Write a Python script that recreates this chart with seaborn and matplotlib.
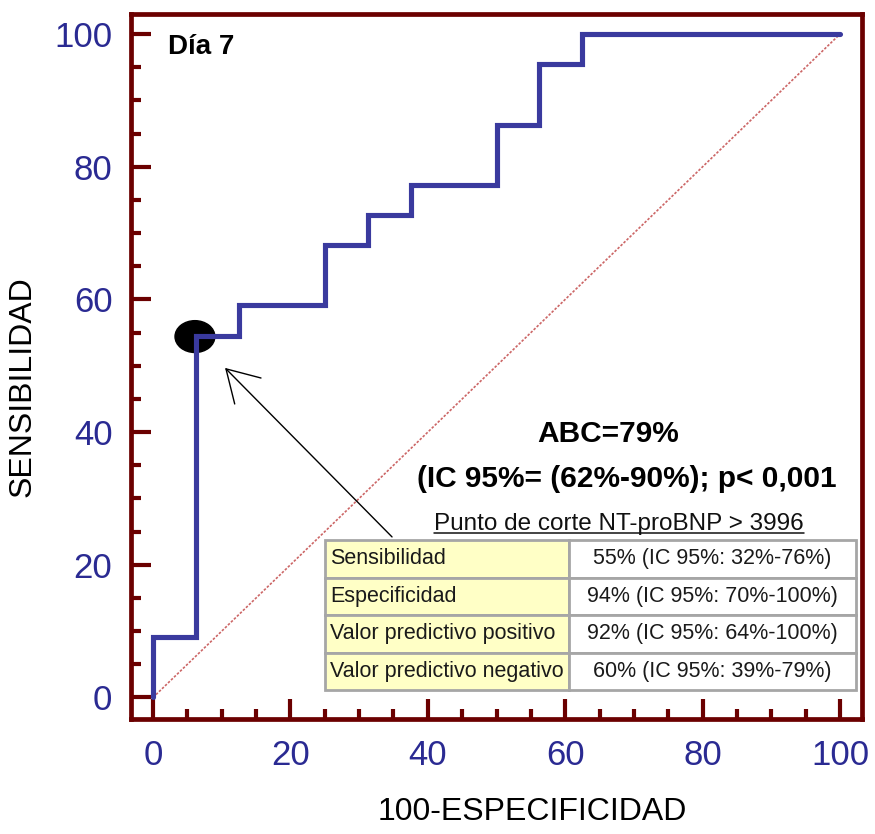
import numpy as np
import pandas as pd
import seaborn as sns
import matplotlib
matplotlib.use("Agg")
import matplotlib.pyplot as plt
import matplotlib.ticker as mticker
from matplotlib.patches import Ellipse
from matplotlib.table import Table
from matplotlib.lines import Line2D

# ROC curve vertices (100-especificidad, sensibilidad)
fpr = [0, 0, 6.25, 6.25, 12.5, 12.5, 25, 25, 31.25, 31.25, 37.5, 37.5,
       50, 50, 56.25, 56.25, 62.5, 62.5, 100]
tpr = [0, 9.09, 9.09, 54.55, 54.55, 59.09, 59.09, 68.18, 68.18, 72.73, 72.73,
       77.27, 77.27, 86.36, 86.36, 95.45, 95.45, 100, 100]
diag = [0, 100]

cut_point = (6.1, 54.4)

row_names = ['Sensibilidad', 'Especificidad', 'Valor predictivo positivo',
             'Valor predictivo negativo']
row_values = ['55% (IC 95%: 32%-76%)', '94% (IC 95%: 70%-100%)',
              '92% (IC 95%: 64%-100%)', '60% (IC 95%: 39%-79%)']

roc = pd.DataFrame({'fpr': fpr, 'tpr': tpr})

sns.set_style("white")
plt.rcParams['font.family'] = ['Liberation Sans', 'DejaVu Sans']
plt.rcParams['text.color'] = 'black'
plt.rcParams['axes.labelcolor'] = 'black'

maroon = '#6b0000'
navy = '#2a2a92'
curve = '#3a3a9e'

fig = plt.figure(figsize=(8.75, 8.34), dpi=100)
ax = fig.add_axes([130.5 / 875, (834 - 718.5) / 834, 731.5 / 875, 705 / 834])

# diagonal reference
sns.lineplot(x=diag, y=diag, ax=ax, color='#cc6666', lw=1.2,
             linestyle=(0, (1.5, 1)), zorder=2)

# cut-off point
ax.add_patch(Ellipse(cut_point, 5.8, 4.8, color='black', zorder=3))

# ROC curve
sns.lineplot(data=roc, x='fpr', y='tpr', ax=ax, estimator=None, sort=False,
             color=curve, lw=3.7, zorder=4, solid_joinstyle='miter')

ax.set_xlim(-3.28, 103.2)
ax.set_ylim(-3.17, 103.1)

for sp in ax.spines.values():
    sp.set_color(maroon)
    sp.set_linewidth(3.4)

ax.xaxis.set_major_locator(mticker.MultipleLocator(20))
ax.yaxis.set_major_locator(mticker.MultipleLocator(20))
ax.xaxis.set_minor_locator(mticker.MultipleLocator(5))
ax.yaxis.set_minor_locator(mticker.MultipleLocator(5))
ax.tick_params(which='both', direction='in', color=maroon, width=3,
               bottom=True, left=True, top=False, right=False)
ax.tick_params(which='major', length=14.5, labelsize=25, labelcolor=navy)
ax.tick_params(which='minor', length=7.5)
ax.tick_params(axis='y', which='major', pad=13)
ax.tick_params(axis='x', which='major', pad=15)

ax.set_xlabel('100-ESPECIFICIDAD', fontsize=23, color='black', va='center')
ax.set_ylabel('SENSIBILIDAD', fontsize=23, color='black', va='center')
ax.xaxis.set_label_coords(0.5489, -0.1326)
ax.yaxis.set_label_coords(-0.1476, 0.4709)

ax.text(0.0513, 0.9426, 'Día 7', transform=ax.transAxes, fontsize=20,
        fontweight='bold', ha='left', va='baseline', color='black')
ax.text(0.6528, 0.3922, 'ABC=79%', transform=ax.transAxes, fontsize=21.5,
        fontweight='bold', ha='center', va='baseline', color='black')
ax.text(0.6787, 0.3284, '(IC 95%= (62%-90%); p< 0,001', transform=ax.transAxes,
        fontsize=21.5, fontweight='bold', ha='center', va='baseline',
        color='black')
punto = ax.text(0.6678, 0.2674, 'Punto de corte NT-proBNP > 3996',
                transform=ax.transAxes, fontsize=17.5, ha='center',
                va='baseline', color='#111111')

# arrow to cut-off point
ax.annotate('', xy=(10.48, 49.68), xytext=(34.79, 24.2),
            arrowprops=dict(arrowstyle='->,head_length=1.6,head_width=0.95',
                            mutation_scale=14, color='black', lw=1.0,
                            shrinkA=0, shrinkB=0), zorder=5)

# results table
tb = Table(ax, bbox=[0.2659, 0.0404, 0.7259, 0.2128])
w_left, w_right = 244 / 531, 287 / 531
h = 1 / 4
for i, (name, val) in enumerate(zip(row_names, row_values)):
    c1 = tb.add_cell(i, 0, w_left, h, text=name, loc='left',
                     facecolor='#ffffc6', edgecolor='#a6a6a6')
    c1.PAD = 0.02
    c2 = tb.add_cell(i, 1, w_right, h, text=val, loc='center',
                     facecolor='white', edgecolor='#a6a6a6')
    for c in (c1, c2):
        c.set_linewidth(2)
        c.get_text().set_color('#1a1a1a')
tb.auto_set_font_size(False)
tb.set_fontsize(15.5)
tb.set_zorder(6)
ax.add_table(tb)

# underline for the cut-off caption
fig.canvas.draw()
bb = punto.get_window_extent()
inv = ax.transAxes.inverted()
x0 = inv.transform((bb.x0, 0))[0]
x1 = inv.transform((bb.x1, 0))[0]
ax.add_line(Line2D([x0, x1], [0.2631, 0.2631], transform=ax.transAxes,
                   color='#111111', lw=1.1))

fig.savefig('out.png', dpi=100)
